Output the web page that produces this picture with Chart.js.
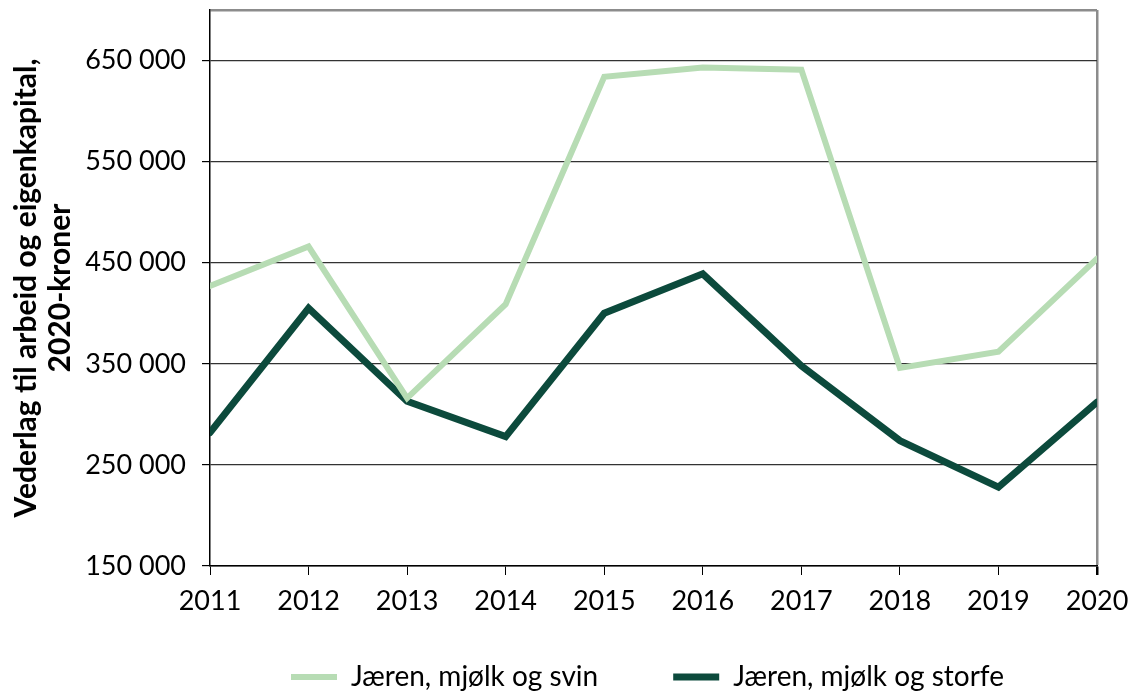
<!DOCTYPE html>
<html>
<head>
<meta charset="utf-8">
<script src="https://cdn.jsdelivr.net/npm/chart.js@4"></script>
<style>
  html, body { margin: 0; background: #fff; }
  #wrap { width: 1133px; height: 693px; }
</style>
</head>
<body>
<div id="wrap"><canvas id="chart"></canvas></div>
<script>
// data
var years = ['2011', '2012', '2013', '2014', '2015', '2016', '2017', '2018', '2019', '2020'];
var svin = [427000, 466000, 316000, 409000, 634000, 643000, 641000, 346000, 362000, 454000];
var storfe = [282000, 405000, 313000, 278000, 400000, 439000, 348000, 274000, 228000, 312000];
var yTicks = [150000, 250000, 350000, 450000, 550000, 650000, 700000];
var yTitle = ['Vederlag til arbeid og eigenkapital,', '2020-kroner'];

var FONT = 'Lato, "Open Sans", sans-serif';
var LEGEND_PAD = 75;

function fmt(v) {
  return String(v).replace(/\B(?=(\d{3})+(?!\d))/g, ' ');
}

// legend sits centred under the plot area, a bit lower than chart.js puts it
var legendUnderPlot = {
  id: 'legendUnderPlot',
  afterLayout: function(chart) {
    var lg = chart.legend;
    if (!lg) return;
    var w = lg.right - lg.left;
    var mid = (chart.chartArea.left + chart.chartArea.right) / 2 - 6;
    lg.left = mid - w / 2;
    lg.right = mid + w / 2;
    lg.top = 677 - LEGEND_PAD - 14;
    lg.bottom = lg.top + 140;
    lg.height = 140;
  }
};

var ctx = document.getElementById('chart');
var myChart = new Chart(ctx, {
  type: 'line',
  data: {
    labels: years,
    datasets: [
      {
        label: 'Jæren, mjølk og svin',
        data: svin,
        borderColor: '#b7dcb4',
        backgroundColor: '#b7dcb4',
        borderWidth: 6,
        borderCapStyle: 'round',
        pointRadius: 0,
        tension: 0,
        clip: 0
      },
      {
        label: 'Jæren, mjølk og storfe',
        data: storfe,
        borderColor: '#0c4a3c',
        backgroundColor: '#0c4a3c',
        borderWidth: 7,
        borderCapStyle: 'round',
        pointRadius: 0,
        tension: 0,
        clip: 0
      }
    ]
  },
  options: {
    responsive: true,
    maintainAspectRatio: false,
    animation: false,
    layout: { padding: { top: 10, right: 0, bottom: 0, left: 0 } },
    plugins: {
      legend: {
        position: 'bottom',
        maxHeight: 70,
        labels: {
          color: '#000',
          font: { family: FONT, size: 28 },
          usePointStyle: true,
          pointStyle: 'line',
          pointStyleWidth: 46,
          boxHeight: 28,
          padding: LEGEND_PAD
        }
      },
      tooltip: { enabled: false }
    },
    scales: {
      x: {
        offset: false,
        afterFit: function(scale) {
          scale.height = 57;
          scale.paddingLeft = 0;
          scale.paddingRight = 36;
        },
        grid: {
          drawOnChartArea: true,
          color: function(c) { return c.index === years.length - 1 ? '#8c8c8c' : 'rgba(0,0,0,0)'; },
          lineWidth: function(c) { return c.index === years.length - 1 ? 2.5 : 1; },
          tickColor: '#000',
          tickLength: 9
        },
        border: { display: true, color: '#000', width: 1.5 },
        ticks: {
          color: '#000',
          font: { family: FONT, size: 27 },
          maxRotation: 0,
          autoSkip: false,
          padding: 10
        }
      },
      y: {
        min: 150000,
        max: 700000,
        afterBuildTicks: function(scale) {
          scale.ticks = yTicks.map(function(v) { return { value: v }; });
        },
        afterFit: function(scale) {
          scale.width = 210;
          scale.paddingTop = 0;
          scale.paddingBottom = 0;
        },
        grid: {
          color: function(c) { return c.tick && c.tick.value === 700000 ? '#8c8c8c' : '#333'; },
          lineWidth: function(c) { return c.tick && c.tick.value === 700000 ? 2.5 : 1.2; },
          tickColor: function(c) { return c.tick && c.tick.value === 700000 ? 'rgba(0,0,0,0)' : '#000'; },
          tickLength: 8
        },
        border: { display: true, color: '#000', width: 1.5 },
        ticks: {
          color: '#000',
          font: { family: FONT, size: 27 },
          padding: 16,
          callback: function(v) { return v === 700000 ? '' : fmt(v); }
        },
        title: {
          display: true,
          text: yTitle,
          color: '#000',
          font: { family: FONT, size: 30, weight: 'bold', lineHeight: 1.15 },
          padding: { top: 9, bottom: 0 }
        }
      }
    }
  },
  plugins: [legendUnderPlot]
});
</script>
</body>
</html>
